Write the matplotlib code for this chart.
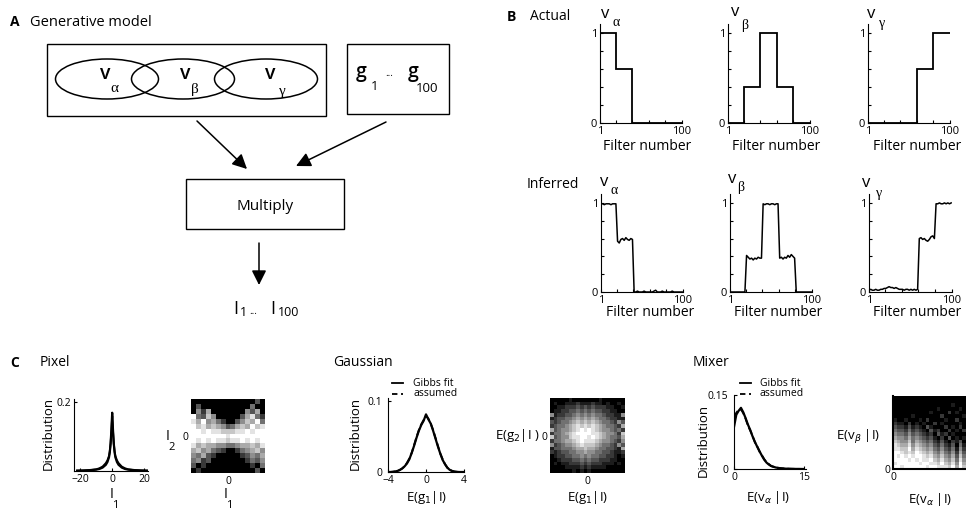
import numpy as np
import matplotlib
matplotlib.use('Agg')
import matplotlib.pyplot as plt
from matplotlib.patches import Rectangle, Ellipse

plt.rcParams['font.family'] = ['Open Sans', 'DejaVu Sans']

W, H = 966, 512

# ---B: source profiles over filter blocks (1-20, 20-40, 40-60, 60-80, 80-100)---
block_edges = [1, 20, 40, 60, 80, 100]
actual_alpha = [1.0, 0.6, 0.0, 0.0, 0.0]
actual_beta = [0.0, 0.4, 1.0, 0.4, 0.0]
actual_gamma = [0.0, 0.0, 0.0, 0.6, 1.0]

# inferred, every second filter (1, 3, ..., 99)
filters = np.arange(1, 101, 2)
inferred_alpha = [0.99, 0.99, 0.98, 0.99, 0.99, 0.99, 0.98, 0.99, 0.99, 0.99,
                  0.57, 0.55, 0.59, 0.60, 0.58, 0.61, 0.59, 0.58, 0.60, 0.59,
                  0.00, 0.00, 0.01, 0.00, 0.00, 0.00, 0.01, 0.00, 0.00, 0.00,
                  0.00, 0.00, 0.01, 0.02, 0.00, 0.00, 0.00, 0.01, 0.00, 0.00,
                  0.00, 0.00, 0.00, 0.01, 0.00, 0.00, 0.00, 0.00, 0.00, 0.00]
inferred_beta = [0.00, 0.00, 0.00, 0.00, 0.00, 0.00, 0.00, 0.00, 0.00, 0.00,
                 0.41, 0.39, 0.37, 0.38, 0.36, 0.38, 0.37, 0.39, 0.38, 0.38,
                 0.99, 0.98, 0.99, 0.99, 0.98, 0.99, 0.99, 0.98, 0.99, 0.99,
                 0.38, 0.39, 0.37, 0.39, 0.38, 0.41, 0.39, 0.42, 0.40, 0.38,
                 0.00, 0.00, 0.00, 0.00, 0.00, 0.00, 0.00, 0.00, 0.00, 0.00]
inferred_gamma = [0.02, 0.03, 0.02, 0.02, 0.03, 0.02, 0.02, 0.03, 0.03, 0.04,
                  0.04, 0.05, 0.06, 0.05, 0.05, 0.04, 0.05, 0.04, 0.03, 0.03,
                  0.03, 0.02, 0.03, 0.03, 0.02, 0.03, 0.02, 0.03, 0.02, 0.03,
                  0.60, 0.61, 0.59, 0.60, 0.58, 0.57, 0.59, 0.62, 0.63, 0.60,
                  0.99, 0.99, 1.00, 0.99, 0.99, 1.00, 0.99, 1.00, 0.99, 1.00]

# ---C: marginal distributions---
pixel_x = [-22, -18, -14, -10, -8, -6, -4, -3, -2, -1.5, -1, -0.5, 0,
           0.5, 1, 1.5, 2, 3, 4, 6, 8, 10, 14, 18, 22]
pixel_fit = [.001, .001, .002, .004, .006, .010, .018, .026, .040, .055, .080, .120, .170,
             .120, .080, .055, .040, .026, .018, .010, .006, .004, .002, .001, .001]
pixel_assumed = [.001, .002, .003, .005, .008, .013, .023, .031, .044, .058, .080, .115, .160,
                 .115, .080, .058, .044, .031, .023, .013, .008, .005, .003, .002, .001]

gauss_x = np.arange(-4, 4.01, 0.25)
gauss_fit = [0, 0, .0003, .0008, .0015, .003, .005, .008, .012, .018, .027, .037, .048,
             .058, .066, .072, .081, .074, .068, .058, .047, .036, .026, .017, .011,
             .006, .003, .0015, .0005, .0002, 0, 0, 0]
gauss_assumed = [0, 0, .0002, .0006, .0013, .0028, .005, .008, .013, .019, .027, .038, .049,
                 .059, .067, .073, .079, .075, .068, .059, .048, .037, .026, .018, .011,
                 .006, .003, .0014, .0006, .0002, 0, 0, 0]

mixer_x = [0, 0.5, 1, 1.5, 2, 2.5, 3, 3.5, 4, 4.5, 5, 5.5, 6, 6.5, 7, 7.5, 8, 9, 10, 11, 12, 13, 14, 15]
mixer_fit = [.085, .110, .118, .124, .115, .103, .090, .079, .066, .055, .045, .036, .027,
             .019, .013, .009, .006, .003, .0015, .0008, .0004, .0002, .0001, 0]
mixer_assumed = [.105, .114, .120, .121, .113, .102, .088, .078, .067, .054, .046, .035, .028,
                 .020, .014, .010, .006, .003, .0015, .0008, .0004, .0002, .0001, 0]

# ---C: joint histograms (grey levels 0-9, top row first)---
pixel_joint = [
    "000000000000030",
    "030000000000400",
    "052600000005360",
    "943750000036842",
    "869564200357694",
    "978676534676978",
    "998988777889899",
    "999999989999999",
    "989898878898989",
    "867665544566768",
    "675643200245675",
    "546320000023546",
    "452300000002435",
    "302000000000204",
    "020000000000030",
]
gauss_joint = [
    "00000100000001000000",
    "01001112111211010010",
    "00112223232322211001",
    "01122334343433221100",
    "51223345454544322115",
    "12334456565654432211",
    "32344567676765443253",
    "23445678787876544326",
    "63455678989876554342",
    "24456789999887655427",
    "73455788998987654436",
    "24456678988876554325",
    "52345567877765443253",
    "13344456676654433216",
    "21233445565544332112",
    "01223344545443322101",
    "00122233434332221100",
    "01011222323222111010",
    "00001111212111100000",
    "00000010101000000000",
]
mixer_joint = [
    "00000000000000000000",
    "00000000000000000000",
    "00000000000000001000",
    "00000000000010000010",
    "00000000001000020100",
    "00000100000002000001",
    "10010001020000100200",
    "21102010100201000010",
    "32213121031000201020",
    "43324232103120020102",
    "54435343212031201000",
    "65546454323102030101",
    "76557465434213102130",
    "87668576545324213041",
    "88779687656435324152",
    "99878798767546435263",
    "98989899878657546374",
    "99998989889768657485",
    "89999998998879768596",
    "99899999989988879697",
]


def grid(rows):
    return np.array([[int(c) for c in r] for r in rows], dtype=float)


fig = plt.figure(figsize=(W / 100, H / 100), dpi=100)


def box(l, t, r, b):
    return [l / W, 1 - b / H, (r - l) / W, (b - t) / H]


def style_axes(ax):
    for s in ['top', 'right']:
        ax.spines[s].set_visible(False)
    ax.tick_params(direction='in', length=2, labelsize=7.5, pad=2, width=0.8)


# ---B axes---
b_actual = [(600, 24, 682, 123, actual_alpha), (728, 24, 810, 123, actual_beta),
            (868, 24, 950, 123, actual_gamma)]
b_inferred = [(601, 194, 683, 292, inferred_alpha), (730, 194, 812, 292, inferred_beta),
              (869, 194, 952, 292, inferred_gamma)]
for (l, t, r, b, vals) in b_actual + b_inferred:
    ax = fig.add_axes(box(l, t, r, b))
    if len(vals) == len(block_edges) - 1:
        ax.stairs(vals, block_edges, baseline=None, color='k', lw=1.3)
    else:
        ax.plot(filters, vals, color='k', lw=1.1)
    ax.set_xlim(1, 100)
    ax.set_ylim(0, 1.1)
    style_axes(ax)
    ax.set_xticks([1, 20, 40, 60, 80, 100], ['1', '', '', '', '', '100'])
    ax.set_yticks([0, 0.2, 0.4, 0.6, 0.8, 1], ['0', '', '', '', '', '1'])
    ax.tick_params(labelsize=8)

# ---C axes---
ax = fig.add_axes(box(74, 399, 148, 471))
ax.plot(pixel_x, pixel_assumed, color='k', lw=1.4)
ax.plot(pixel_x, pixel_fit, color='k', lw=1.6)
ax.set_xlim(-24, 22.5)
ax.set_ylim(0, 0.21)
style_axes(ax)
ax.set_xticks([-20, 0, 20])
ax.set_yticks([0.2], ['0.2'])

ax = fig.add_axes(box(388, 398, 464, 472))
ax.plot(gauss_x, gauss_fit, color='k', lw=1.6)
ax.plot(gauss_x, gauss_assumed, color='k', lw=1.4, ls='--')
ax.set_xlim(-4, 4)
ax.set_ylim(0, 0.104)
style_axes(ax)
ax.tick_params(axis='y', pad=4)
ax.set_xticks([-4, 0, 4])
ax.set_yticks([0, 0.1], ['0', '0.1'])

ax = fig.add_axes(box(734, 395, 806, 469))
ax.plot(mixer_x, mixer_fit, color='k', lw=1.6)
ax.plot(mixer_x, mixer_assumed, color='k', lw=1.4, ls='--')
ax.set_xlim(0, 15.5)
ax.set_ylim(0, 0.15)
style_axes(ax)
ax.tick_params(axis='y', pad=4)
ax.set_xticks([0, 15])
ax.set_yticks([0, 0.15], ['0', '0.15'])

for (l, t, r, b, rows, spines) in [(191, 399, 265, 473, pixel_joint, False),
                                   (550, 398, 625, 473, gauss_joint, False),
                                   (893, 396, 966, 469, mixer_joint, True)]:
    ax = fig.add_axes(box(l, t, r, b))
    img = grid(rows)
    n = img.shape[0]
    ax.imshow(img, cmap='gray', vmin=0, vmax=9, aspect='auto', interpolation='nearest')
    for s in ax.spines.values():
        s.set_visible(False)
    ax.tick_params(length=0, labelsize=7.5, pad=2)
    if spines:
        ax.spines['left'].set_visible(True)
        ax.spines['bottom'].set_visible(True)
        ax.spines['left'].set_linewidth(1.5)
        ax.spines['bottom'].set_linewidth(1.5)
        ax.set_xticks([-0.5], ['0'])
        ax.set_yticks([n - 0.5], ['0'])
    else:
        ax.set_xticks([(n - 1) / 2], ['0'])
        ax.set_yticks([(n - 1) / 2], ['0'])

# ---overlay for diagram and labels (pixel coordinates)---
ov = fig.add_axes([0, 0, 1, 1], zorder=10)
ov.set_xlim(0, W)
ov.set_ylim(H, 0)
ov.axis('off')
ov.patch.set_alpha(0)


def txt(x, y, s, size=10, ha='center', va='center', **kw):
    ov.text(x, y, s, fontsize=size, ha=ha, va=va, **kw)


# Panel A
txt(10, 22, 'A', 10, ha='left', weight='bold')
txt(30, 22, 'Generative model', 10.5, ha='left')
ov.add_patch(Rectangle((47, 44), 279, 72, fill=False, lw=1.0))
ov.add_patch(Rectangle((347, 44), 102, 70, fill=False, lw=1.0))
for cx in [107, 183, 266]:
    ov.add_patch(Ellipse((cx, 79), 103, 40, fill=False, lw=1.1))
greek = ['Liberation Serif', 'DejaVu Serif']
for vx, gx, gy, g in [(105, 114, 88, 'α'), (185, 195, 89, 'β'), (270, 282, 91, 'γ')]:
    txt(vx, 74, 'v', 14, weight='semibold')
    txt(gx, gy, g, 11, family=greek)
txt(361, 72, 'g', 14, weight='semibold')
txt(375, 87, '1', 9.5)
txt(389, 74, '...', 7)
txt(413, 72, 'g', 14, weight='semibold')
txt(427, 89, '100', 9.5)
ov.add_patch(Rectangle((186, 179), 158, 50, fill=False, lw=1.0))
txt(265, 206, 'Multiply', 11)
arrow = dict(arrowstyle='-|>', mutation_scale=22, lw=1.1, color='k', shrinkA=0, shrinkB=0)
ov.annotate('', xy=(247, 169), xytext=(197, 121), arrowprops=arrow)
ov.annotate('', xy=(296, 166), xytext=(386, 122), arrowprops=arrow)
ov.annotate('', xy=(259, 285), xytext=(259, 243), arrowprops=arrow)
txt(236, 309, 'I', 13)
txt(243, 313, '1', 9)
txt(253, 311, '...', 7)
txt(273, 309, 'I', 13)
txt(289, 313, '100', 9)

# Panel B
txt(507, 17, 'B', 10, ha='left', weight='bold')
txt(530, 17, 'Actual', 10, ha='left')
txt(527, 185, 'Inferred', 10, ha='left')
for vx, vy, gx, gy, g in [(605, 14, 616, 22, 'α'), (735, 12, 745, 25, 'β'), (871, 14, 882, 24, 'γ'),
                          (604, 182, 614, 191, 'α'), (732, 179, 741, 187, 'β'),
                          (866, 183, 879, 194, 'γ')]:
    txt(vx, vy, 'v', 12)
    txt(gx, gy, g, 10, family=greek)
for x, y in [(647, 147), (776, 147), (917, 147), (650, 312), (778, 312), (917, 312)]:
    txt(x, y, 'Filter number', 10)

# Panel C
txt(10, 363, 'C', 10, ha='left', weight='bold')
txt(40, 363, 'Pixel', 10, ha='left')
txt(333, 363, 'Gaussian', 10, ha='left')
txt(693, 363, 'Mixer', 10, ha='left')
for x, y in [(48, 433), (355, 433), (703, 440)]:
    txt(x, y, 'Distribution', 9.5, rotation=90)
txt(112, 494, 'I', 10)
txt(115, 506, '1', 8)
txt(226, 494, 'I', 10)
txt(229, 506, '1', 8)
txt(168, 437, 'I', 10)
txt(172, 448, '2', 8)
txt(427, 497, r'E(g$_1$|I)', 9.5)
txt(588, 497, r'E(g$_1$|I)', 9.5)
txt(540, 436, r'E(g$_2$|I )', 9.5, ha='right')
txt(768, 498, r'E(v$_\alpha$ |I)', 9.5)
txt(930, 500, r'E(v$_\alpha$ |I)', 9.5)
txt(880, 437, r'E(v$_\beta$ |I)', 9.5, ha='right')

# legends
for lx, tx in [(392, 413), (740, 760)]:
    ov.plot([lx, lx + 11], [383, 383], color='k', lw=1.3)
    ov.plot([lx, lx + 11], [394, 394], color='k', lw=1.3, ls=(0, (3, 2)))
    txt(tx, 383, 'Gibbs fit', 7.5, ha='left')
    txt(tx, 394, 'assumed', 7.5, ha='left')

fig.savefig('out.png', dpi=100)
